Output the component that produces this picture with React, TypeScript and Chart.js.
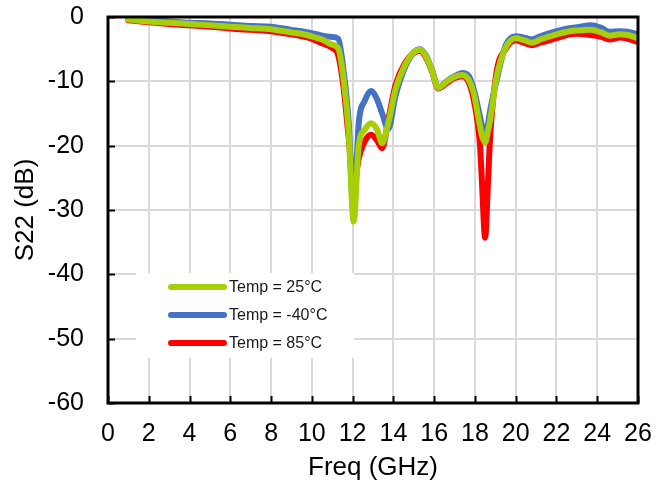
import React, { useEffect, useRef } from "react";
import { Chart, registerables } from "chart.js";

Chart.register(...registerables);

const FREQ_GHZ = [
  1, 2, 3, 4, 5, 6, 7, 8, 9, 9.5, 10, 10.5, 11, 11.3, 11.55, 11.8, 12.05, 12.3, 12.6, 12.9, 13.2,
  13.45, 13.75, 14.1, 14.6, 15.0, 15.3, 15.6, 15.9, 16.2, 16.6, 17.0, 17.4, 17.7, 17.95, 18.25,
  18.35, 18.5, 18.65, 18.75, 19.05, 19.5, 20.0, 20.4, 20.8, 21.2, 22.0, 22.5, 23.0, 23.7, 24.2,
  24.6, 25.1, 25.5, 26,
];

const S22_25C = [
  -0.4, -0.7, -0.9, -1.1, -1.3, -1.5, -1.7, -1.9, -2.4, -2.6, -3.0, -3.5, -4.3, -4.9, -9.5, -17.5,
  -31.8, -20.0, -17.5, -16.5, -17.5, -19.6, -16.5, -11.3, -7.3, -5.5, -5.1, -6.1, -8.4, -11.0,
  -10.1, -9.3, -9.0, -9.8, -12.0, -17.0, -18.5, -19.5, -17.5, -16.0, -9.5, -4.8, -3.3, -3.6, -4.0,
  -3.5, -2.7, -2.3, -2.1, -2.0, -2.4, -2.9, -2.7, -2.8, -3.3,
];

const S22_M40C = [
  -0.2, -0.5, -0.7, -0.9, -1.0, -1.2, -1.4, -1.5, -2.0, -2.2, -2.5, -2.9, -3.1, -3.4, -8.2, -16.0,
  -30.4, -16.5, -13.0, -11.5, -12.8, -15.0, -17.4, -12.3, -7.6, -5.5, -5.0, -6.0, -8.3, -11.0,
  -10.0, -9.2, -8.7, -9.2, -11.3, -15.5, -17.0, -18.3, -16.5, -14.5, -10.0, -4.5, -3.0, -3.2, -3.5,
  -3.0, -2.2, -1.8, -1.6, -1.3, -1.7, -2.3, -2.2, -2.3, -2.7,
];

const S22_85C = [
  -0.5, -0.8, -1.1, -1.3, -1.5, -1.8, -2.0, -2.2, -2.7, -3.0, -3.4, -4.1, -4.8, -6.0, -10.8, -18.5,
  -26.3, -22.0, -19.3, -18.3, -19.2, -20.4, -16.0, -10.6, -7.0, -5.6, -5.3, -6.3, -8.5, -11.1,
  -10.3, -9.5, -9.2, -10.2, -13.0, -20.0, -26.0, -34.3, -25.0, -18.5, -8.8, -5.0, -3.6, -4.0, -4.4,
  -4.0, -3.3, -2.8, -2.6, -2.8, -3.1, -3.5, -3.2, -3.4, -3.9,
];

const SERIES_LABELS = ["Temp = 25°C", "Temp = -40°C", "Temp = 85°C"];
const SERIES_COLORS = ["#a6cf0a", "#4472c4", "#ff0000"];
const SERIES_VALUES = [S22_25C, S22_M40C, S22_85C];

const X_MIN = 0;
const X_MAX = 26;
const X_STEP = 2;
const Y_MIN = -60;
const Y_MAX = 0;
const Y_STEP = 10;
const X_TITLE = "Freq (GHz)";
const Y_TITLE = "S22 (dB)";

const FONT = "'Liberation Sans', Arial, sans-serif";

const framePlugin = {
  id: "frameAndLegend",
  afterDatasetsDraw(chart: any) {
    const { ctx, chartArea } = chart;
    const { left, right, top, bottom } = chartArea;
    const xs = chart.scales.x;
    const ys = chart.scales.y;
    ctx.save();

    // legend box inside plot area
    const lx = left + 28;
    const ly = top + 256;
    const lw = 218;
    const lh = 85;
    ctx.fillStyle = "#ffffff";
    ctx.fillRect(lx, ly, lw, lh);
    ctx.font = `16px ${FONT}`;
    ctx.textBaseline = "middle";
    ctx.textAlign = "left";
    chart.data.datasets.forEach((ds: any, i: number) => {
      const yy = ly + 14 + i * 28;
      ctx.strokeStyle = ds.borderColor;
      ctx.lineWidth = 6;
      ctx.lineCap = "round";
      ctx.beginPath();
      ctx.moveTo(lx + 35, yy);
      ctx.lineTo(lx + 88, yy);
      ctx.stroke();
      ctx.fillStyle = "#1a1a1a";
      ctx.fillText(ds.label, lx + 93, yy + 1);
    });

    // inward tick marks
    ctx.strokeStyle = "#000";
    ctx.lineWidth = 2;
    ctx.lineCap = "butt";
    ys.ticks.forEach((t: any) => {
      const p = Math.round(ys.getPixelForValue(t.value)) + 0.5;
      ctx.beginPath();
      ctx.moveTo(left, p);
      ctx.lineTo(left + 7, p);
      ctx.stroke();
    });
    xs.ticks.forEach((t: any) => {
      const p = Math.round(xs.getPixelForValue(t.value)) + 0.5;
      ctx.beginPath();
      ctx.moveTo(p, bottom);
      ctx.lineTo(p, bottom - 7);
      ctx.stroke();
    });

    // frame
    ctx.lineWidth = 3;
    ctx.lineJoin = "miter";
    ctx.strokeRect(left, top, right - left, bottom - top);
    ctx.restore();
  },
};

export default function App() {
  const canvasRef = useRef<HTMLCanvasElement | null>(null);

  useEffect(() => {
    const canvas = canvasRef.current;
    if (!canvas) return;
    const datasets = SERIES_VALUES.map((vals, i) => ({
      label: SERIES_LABELS[i],
      data: FREQ_GHZ.map((f, j) => ({ x: f, y: vals[j] })),
      borderColor: SERIES_COLORS[i],
      backgroundColor: SERIES_COLORS[i],
      borderWidth: 6,
      pointRadius: 0,
      cubicInterpolationMode: "monotone" as const,
      borderJoinStyle: "round" as const,
      borderCapStyle: "round" as const,
      fill: false,
    }));

    const chart = new Chart(canvas, {
      type: "line",
      data: { datasets },
      options: {
        animation: false,
        responsive: false,
        devicePixelRatio: 1,
        layout: { padding: { left: 0, right: 30, top: 17, bottom: 0 } },
        plugins: {
          legend: { display: false },
          tooltip: { enabled: false },
        },
        scales: {
          x: {
            type: "linear",
            min: X_MIN,
            max: X_MAX,
            border: { display: false },
            grid: { color: "#d9d9d9", lineWidth: 2, drawTicks: false },
            ticks: {
              stepSize: X_STEP,
              color: "#000",
              padding: 16,
              maxRotation: 0,
              autoSkip: false,
              font: { family: FONT, size: 25, lineHeight: 1.2 },
            },
            title: {
              display: true,
              text: X_TITLE,
              color: "#000",
              padding: { top: 0, bottom: 4 },
              font: { family: FONT, size: 26, lineHeight: 1.2 },
            },
            afterFit: (s: any) => {
              s.height = 84;
              s.paddingLeft = 0;
              s.paddingRight = 0;
              s.paddingTop = 0;
              s.paddingBottom = 0;
            },
          },
          y: {
            type: "linear",
            min: Y_MIN,
            max: Y_MAX,
            border: { display: false },
            grid: { color: "#d9d9d9", lineWidth: 2, drawTicks: false },
            ticks: {
              stepSize: Y_STEP,
              color: "#000",
              padding: 24,
              font: { family: FONT, size: 25, lineHeight: 1.2 },
            },
            title: {
              display: true,
              text: Y_TITLE,
              color: "#000",
              padding: { top: 10, bottom: 0 },
              font: { family: FONT, size: 26, lineHeight: 1.2 },
            },
            afterFit: (s: any) => {
              s.width = 108;
              s.paddingLeft = 0;
              s.paddingRight = 0;
              s.paddingTop = 0;
              s.paddingBottom = 0;
            },
          },
        },
      },
      plugins: [framePlugin],
    });
    return () => chart.destroy();
  }, []);

  return (
    <div style={{ position: "fixed", left: 0, top: 0, width: 668, height: 487, background: "#fff" }}>
      <canvas ref={canvasRef} width={668} height={487} style={{ display: "block" }} />
    </div>
  );
}
